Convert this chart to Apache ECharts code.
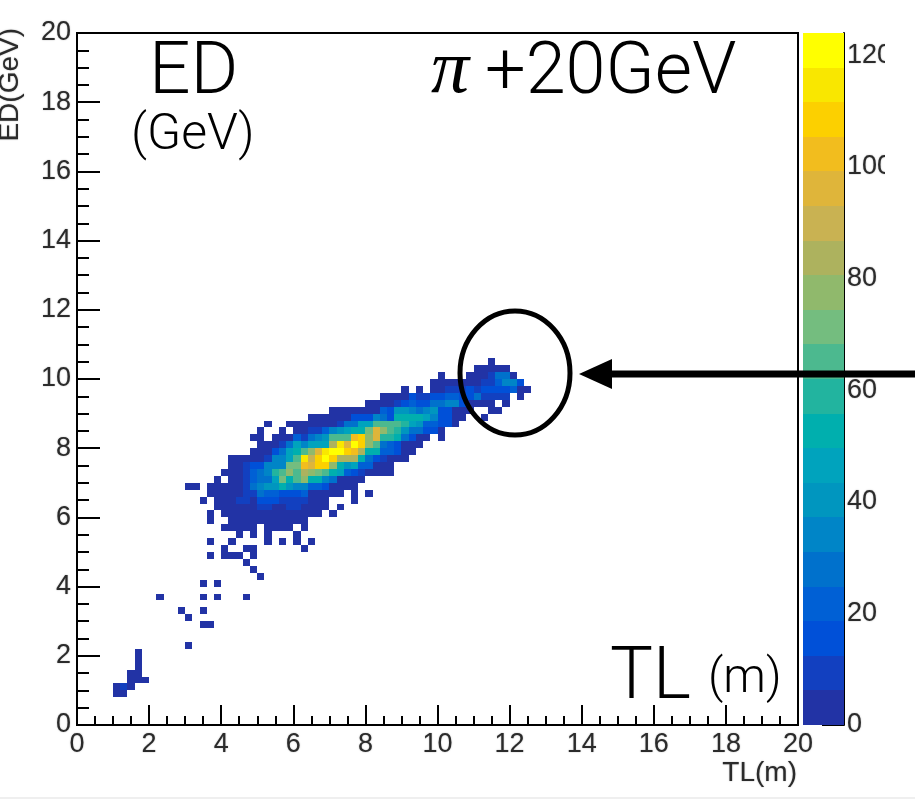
<!DOCTYPE html>
<html><head><meta charset="utf-8">
<style>html,body{margin:0;padding:0;background:#fff}#c{width:915px;height:799px}</style>
<script src="https://cdn.jsdelivr.net/npm/echarts@6/dist/echarts.min.js"></script>
</head><body><div id="c"></div>
<script>
const binWidth = 0.2;
const zMax = 124;
const palette = ['#2233a5','#1240c0','#0050d8','#0060d5','#0071cc','#0085c7','#0096bf','#00a3bd','#00afae','#22b49f','#4cb98f','#74bd7f','#90b96c','#adb25e','#c9b252','#dfb53a','#f2bd1e','#fcd000','#f9e700','#ffff00'];
// each entry: [row bin, first column bin, counts per column (0 = empty)]
const binRows = [
 [4,5,[3,3]],
 [5,5,[3,9,3]],
 [6,7,[3,3,3]],
 [7,7,[3,3]],
 [8,8,[3]],[9,8,[3]],[10,8,[3]],
 [11,15,[2]],
 [14,17,[2,2]],
 [15,15,[2]],
 [16,14,[1]],[16,17,[1]],
 [18,11,[2]],[18,17,[1,0,2]],[18,23,[1]],
 [20,17,[1,0,2]],
 [21,25,[1]],[22,24,[2]],[23,23,[1]],
 [24,18,[2,0,3,3,3,0,3]],
 [25,20,[2,0,0,3,3]],[25,31,[2]],
 [26,18,[1,0,0,2]],[26,26,[1,0,2,0,2,0,1]],
 [27,22,[2,0,3,0,2]],[27,30,[3]],
 [28,20,[3,3,3,3,3,0,3,3,3,3,0,2]],
 [29,18,[2,0,0,3,3,3,3,3,3,3,3,3,3,3]],
 [30,18,[2,0,3,3,4,3,3,3,3,3,3,3,3,3,3,3,0,2]],
 [31,19,[3,4,5,3,4,3,9,9,3,3,9,9,3,3,3,3,0,2]],
 [32,17,[2,0,3,3,3,9,9,3,15,15,15,9,9,9,9,3,3,3]],
 [32,38,[2]],
 [33,18,[3,3,3,3,3,9,9,28,22,22,15,15,15,22,3,3,3,3,3,0,3,0,2]],
 [34,15,[2,2,0,3,3,3,3,3,9,28,34,40,40,53,40,34,34,22,22,15,3,3,3,3]],
 [35,19,[3,0,3,3,9,22,28,28,47,71,53,65,78,53,53,34,28,3,3,3,3]],
 [36,20,[3,3,3,9,22,28,34,59,65,78,65,84,78,71,65,53,47,22,15,9,3,3,3,3]],
 [37,21,[3,3,9,15,15,34,34,34,71,71,102,96,109,109,78,53,40,47,22,22,3,3,3]],
 [38,21,[3,3,3,3,3,9,34,34,47,65,115,90,109,121,109,84,84,84,53,28,15,9,3,3,3]],
 [39,24,[3,3,3,15,28,47,53,65,78,96,115,121,121,109,102,84,53,53,22,22,15,3,3]],
 [40,25,[3,3,3,9,28,47,34,47,47,47,84,115,96,121,109,78,65,28,22,15,3,3,3]],
 [41,24,[3,3,0,3,3,3,22,9,28,34,40,65,65,65,102,109,78,96,59,59,53,28,15,3,3,0,3]],
 [42,25,[3,0,0,3,0,3,3,9,9,22,34,40,47,53,53,71,96,78,65,59,40,28,28,15,15,3]],
 [43,26,[3,0,0,3,3,3,3,3,3,3,9,28,28,47,47,65,65,65,65,59,47,40,22,22,15,15,3]],
 [44,32,[3,3,3,3,3,3,15,15,15,34,28,15,53,53,53,53,47,34,15,15,3,3,0,0,3]],
 [45,35,[3,3,3,3,3,3,3,22,15,40,40,34,28,34,40,15,15,3,3,3,0,0,3,3]],
 [46,40,[3,3,3,3,9,15,22,15,15,28,28,34,34,15,3,3,3,3,0,3]],
 [47,42,[3,3,3,3,15,9,9,15,15,22,22,15,15,28,9,9,9,9,0,3]],
 [48,45,[3,0,3,0,3,3,9,9,9,15,9,15,15,15,15,22,3,3]],
 [49,49,[3,3,3,3,3,3,3,9,9,22,34,34,15]],
 [50,50,[3]],[50,54,[3,3,3,9,28,28,3]],
 [51,55,[3,3,3,3,3]],
 [52,57,[3]]
];
const cells = [];
binRows.forEach(function (row) {
  row[2].forEach(function (count, k) {
    if (count > 0) cells.push([(row[1] + k) * binWidth, row[0] * binWidth, count]);
  });
});
const bandStep = zMax / palette.length;
const bands = palette.map(function (_, i) { return [i * bandStep, (i + 1) * bandStep, i]; });

const lab = {color:'#2b2b2b',fontFamily:'Liberation Sans',fontSize:27,textShadowColor:'rgba(0,0,0,0.35)',textShadowBlur:1.5};
function renderCell(params, api) {
  const x = api.value(0), y = api.value(1), v = api.value(2);
  const a = api.coord([x, y]), b = api.coord([x + binWidth, y + binWidth]);
  const idx = Math.min(palette.length - 1, Math.floor(v / bandStep));
  const x0 = Math.round(a[0]), x1 = Math.round(b[0]), y0 = Math.round(b[1]), y1 = Math.round(a[1]);
  return {type:'rect',shape:{x:x0,y:y0,width:x1-x0,height:y1-y0},style:{fill:palette[idx]}};
}
function renderBand(params, api) {
  const a = api.coord([0, api.value(0)]), b = api.coord([1, api.value(1)]);
  return {type:'rect',shape:{x:a[0],y:Math.round(b[1]),width:b[0]-a[0],height:Math.round(a[1])-Math.round(b[1])},style:{fill:palette[api.value(2)]}};
}
// x, baseline y: the default text box is top aligned, so the baseline is moved up by the ascent
const txt = (x,base,text,size,extra) => ({type:'text',x:x,y:base-0.81*size,z:20,style:Object.assign({text:text,fontFamily:'Roboto',fontWeight:300,fontSize:size,fill:'#000'},extra||{})});

const option = {
  animation:false,
  backgroundColor:'#fff',
  grid:[
    {left:77,top:33,width:721,height:692,show:true,borderColor:'#000',borderWidth:2,backgroundColor:'transparent'},
    {left:803,top:33,width:41,height:692}
  ],
  xAxis:[
    {type:'value',gridIndex:0,min:0,max:20,interval:2,
     axisLine:{show:true,onZero:false,lineStyle:{color:'#000',width:2}},
     axisTick:{show:true,inside:true,length:20,lineStyle:{color:'#000',width:2}},
     minorTick:{show:true,splitNumber:4,length:9,lineStyle:{color:'#000',width:2}},
     splitLine:{show:false},minorSplitLine:{show:false},
     axisLabel:Object.assign({margin:6,hideOverlap:false,showMinLabel:true,showMaxLabel:true},lab)},
    {type:'value',gridIndex:1,min:0,max:1,show:false}
  ],
  yAxis:[
    {type:'value',gridIndex:0,min:0,max:20,interval:2,
     axisLine:{show:true,onZero:false,lineStyle:{color:'#000',width:2}},
     axisTick:{show:true,inside:true,length:23,lineStyle:{color:'#000',width:2}},
     minorTick:{show:true,splitNumber:4,length:12,lineStyle:{color:'#000',width:2}},
     splitLine:{show:false},minorSplitLine:{show:false},
     axisLabel:Object.assign({margin:6,showMinLabel:true,showMaxLabel:true},lab)},
    {type:'value',gridIndex:1,position:'right',min:0,max:zMax,interval:20,
     axisLine:{show:true,onZero:false,lineStyle:{color:'#000',width:2}},
     axisTick:{show:true,inside:true,length:22,lineStyle:{color:'#000',width:2}},
     splitLine:{show:false},
     axisLabel:Object.assign({margin:3,showMaxLabel:false},lab)}
  ],
  series:[
    {type:'custom',name:'counts',xAxisIndex:0,yAxisIndex:0,coordinateSystem:'cartesian2d',renderItem:renderCell,data:cells,encode:{x:0,y:1},clip:true,z:2},
    {type:'custom',name:'scale',xAxisIndex:1,yAxisIndex:1,coordinateSystem:'cartesian2d',renderItem:renderBand,data:bands,encode:{y:[0,1]},z:1}
  ],
  graphic:[
    txt(149,97,'ED',73),
    txt(131,152,'(GeV)',50),
    txt(431,96,'π',76,{fontFamily:'Liberation Serif',fontStyle:'italic',fontWeight:400}),
    txt(485,97,'+20GeV',72),
    txt(610,702,'TL',72),
    txt(708,695,'(m)',48),
    {type:'text',x:797,y:773,z:20,style:{text:'TL(m)',fontFamily:'Liberation Sans',fontSize:28,fill:'#2b2b2b',align:'right',verticalAlign:'middle',textShadowColor:'rgba(0,0,0,0.35)',textShadowBlur:1.5}},
    {type:'text',x:10,y:28,rotation:Math.PI/2,z:20,style:{text:'ED(GeV)',fontFamily:'Liberation Sans',fontSize:28,fill:'#2b2b2b',align:'right',verticalAlign:'middle',textShadowColor:'rgba(0,0,0,0.35)',textShadowBlur:1.5}},
    {type:'ellipse',shape:{cx:515,cy:373,rx:55,ry:62},z:21,style:{fill:null,stroke:'#000',lineWidth:5}},
    {type:'line',shape:{x1:915,y1:374,x2:606,y2:374},z:21,style:{stroke:'#000',lineWidth:7}},
    {type:'polygon',shape:{points:[[579,374],[612,359],[612,389]]},z:21,style:{fill:'#000'}},
    {type:'rect',shape:{x:885,y:40,width:30,height:30},z:22,style:{fill:'#fff'}},
    {type:'rect',shape:{x:885,y:152,width:30,height:30},z:22,style:{fill:'#fff'}},
    {type:'rect',shape:{x:0,y:797,width:915,height:2},z:22,style:{fill:'#efefef'}}
  ]
};
const chart = echarts.init(document.getElementById('c'),null,{renderer:'canvas'});
chart.setOption(option);
</script></body></html>
